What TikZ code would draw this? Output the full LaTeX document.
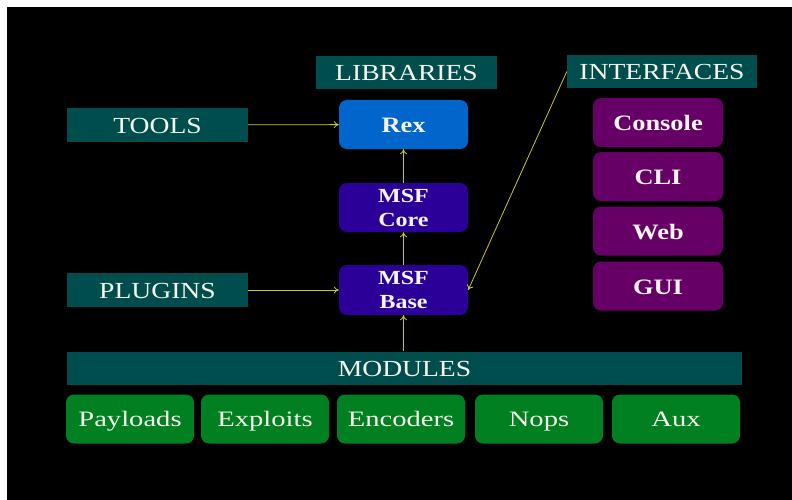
\documentclass[tikz,border=0pt]{standalone}
\usetikzlibrary{arrows.meta}
\usepackage{xcolor}
\usepackage{fontspec}
\setmainfont{Liberation Serif}
\newfontfamily\headfont[FakeStretch=1.2]{Liberation Serif}
\newfontfamily\boxfont[FakeStretch=1.2]{Liberation Serif}
\newfontfamily\modfont[FakeStretch=1.3]{Liberation Serif}

\definecolor{tealbar}{RGB}{0,77,77}
\definecolor{rexblue}{RGB}{0,102,204}
\definecolor{msfindigo}{RGB}{43,0,153}
\definecolor{ifpurple}{RGB}{102,0,102}
\definecolor{modgreen}{RGB}{0,128,32}
\definecolor{linkyellow}{RGB}{200,200,40}
\definecolor{textwhite}{RGB}{245,245,235}

\begin{document}
\begin{tikzpicture}[x=1pt, y=-1pt]
 \tikzstyle{head}=[fill=tealbar, text=textwhite, inner sep=0pt,
                   text height=17pt, text depth=0pt,
                   font=\headfont\fontsize{23}{27}\selectfont]
 \tikzstyle{unit}=[rounded corners=8pt, text=textwhite, inner sep=0pt,
                   minimum width=129pt, minimum height=49pt, align=center,
                   font=\boxfont\bfseries\fontsize{22}{26}\selectfont]
 \tikzstyle{msf}=[unit, fill=msfindigo,
                  font=\boxfont\bfseries\fontsize{20}{24}\selectfont]
 \tikzstyle{iface}=[unit, fill=ifpurple, minimum width=130pt,
                    text height=20pt, text depth=4pt]
 \tikzstyle{module}=[unit, fill=modgreen, minimum width=128pt,
                     text height=18pt, text depth=4pt,
                     font=\modfont\fontsize{22}{26}\selectfont]
 \tikzstyle{link}=[draw=linkyellow, line width=0.8pt, -{To[length=5pt,width=7pt]}]

\useasboundingbox (0,0) rectangle (792,500);
\fill[white] (0,0) rectangle (792,500);
\fill[black] (7,7) rectangle (792,500);

% headings
\node[head, minimum width=181pt, minimum height=33pt] (libraries) at (406.5,72.5) {LIBRARIES};
\node[head, minimum width=190pt, minimum height=33pt] (interfaces) at (662,71.5) {INTERFACES};
\node[head, minimum width=181pt, minimum height=34pt] (tools) at (157.5,125) {TOOLS};
\node[head, minimum width=181pt, minimum height=34pt] (plugins) at (157.5,290) {PLUGINS};
\node[head, minimum width=675pt, minimum height=33pt] (modules) at (404.5,368) {MODULES};

% framework
\node[unit, fill=rexblue, text height=20pt, text depth=4pt] (rex) at (403.5,124.5) {Rex};
\node[msf] (core) at (403.5,207.5) {MSF\\Core};
\node[msf, minimum height=50pt] (base) at (403.5,290) {MSF\\Base};

% interfaces
\node[iface] (console) at (658,122.5) {Console};
\node[iface] (cli) at (658,176.5) {CLI};
\node[iface] (web) at (658,231) {Web};
\node[iface] (gui) at (658,286) {GUI};

% modules
\node[module] (payloads) at (130,419) {Payloads};
\node[module] (exploits) at (265,419) {Exploits};
\node[module] (encoders) at (401,419) {Encoders};
\node[module] (nops) at (539,419) {Nops};
\node[module] (aux) at (676,419) {Aux};

\draw[link] (tools) -- (rex);
\draw[link] (plugins) -- (base);
\draw[link] (core) -- (rex);
\draw[link] (base) -- (core);
\draw[link] (modules.north -| base) -- (base);
\draw[link] (interfaces.west) -- (base.east);

\end{tikzpicture}
\end{document}
